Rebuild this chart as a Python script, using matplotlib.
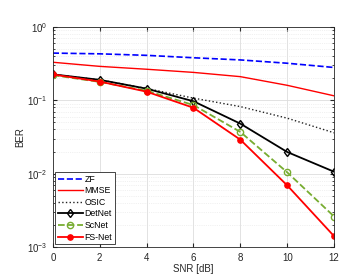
import numpy as np
import matplotlib.pyplot as plt

# --- data ---
snr = [0, 2, 4, 6, 8, 10, 12]
ber_zf = [0.44, 0.43, 0.41, 0.38, 0.355, 0.32, 0.28]
ber_mmse = [0.33, 0.29, 0.265, 0.24, 0.21, 0.16, 0.115]
ber_osic = [0.225, 0.19, 0.145, 0.107, 0.082, 0.057, 0.036]
ber_detnet = [0.226, 0.19, 0.144, 0.097, 0.048, 0.0197, 0.0106]
ber_scnet = [0.22, 0.178, 0.135, 0.086, 0.037, 0.0104, 0.0026]
ber_fsnet = [0.225, 0.18, 0.131, 0.079, 0.029, 0.0069, 0.0014]

plt.rcParams['font.family'] = ['Liberation Sans', 'DejaVu Sans']

fig = plt.figure(figsize=(3.62, 2.75), dpi=100)
ax = fig.add_axes([0.146, 0.102, 0.777, 0.80])

ax.semilogy(snr, ber_zf, '--', color='#0000ff', lw=1.2, label='ZF')
ax.semilogy(snr, ber_mmse, '-', color='#ff0000', lw=1.0, label='MMSE')
ax.semilogy(snr, ber_osic, ':', color='#222222', lw=1.0, label='OSIC')
ax.semilogy(snr, ber_detnet, '-', color='black', lw=1.3, marker='d',
            mfc='none', ms=4.5, mew=1.0, label='DetNet')
ax.semilogy(snr, ber_scnet, '--', color='#77ac30', lw=1.3, marker='o',
            mfc='none', ms=4.5, mew=1.0, label='ScNet')
ax.semilogy(snr, ber_fsnet, '-', color='#ff0000', lw=1.3, marker='o',
            ms=3.8, label='FS-Net')

ax.set_xlim(0, 12)
ax.set_ylim(1e-3, 1)
ax.set_xticks(snr)
ax.set_xlabel('SNR [dB]', fontsize=7, color='#262626', labelpad=1)
ax.set_ylabel('BER', fontsize=7, color='#262626', labelpad=1)

ax.grid(True, which='major', color='#dddddd', lw=0.6)
ax.grid(True, which='minor', color='#e4e4e4', lw=0.5, ls=':')
ax.tick_params(which='both', direction='in', labelsize=7, colors='#262626',
               top=True, right=True)
ax.tick_params(which='major', length=3, pad=4)
ax.tick_params(which='minor', length=1.5)
for s in ax.spines.values():
    s.set_color('#262626')
    s.set_linewidth(0.6)

leg = ax.legend(loc='lower left', fontsize=6.3, handlelength=2.8,
                fancybox=False, framealpha=1, borderpad=0.3,
                labelspacing=0.3, handletextpad=0.2, borderaxespad=0.3)
leg.get_frame().set_edgecolor('#262626')
leg.get_frame().set_linewidth(0.6)

fig.savefig('out.png', dpi=100)
